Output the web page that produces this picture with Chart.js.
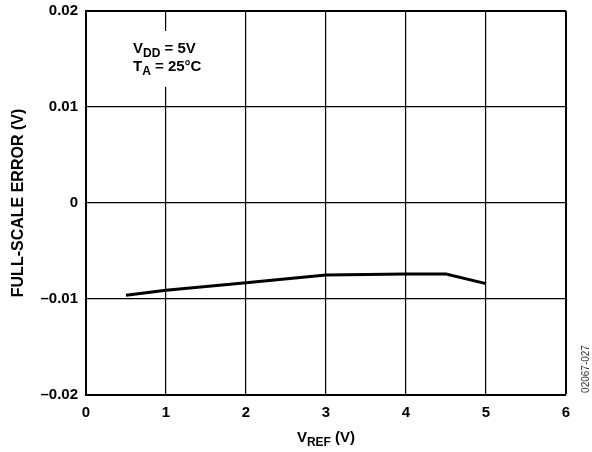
<!DOCTYPE html>
<html>
<head>
<meta charset="utf-8">
<script src="https://cdn.jsdelivr.net/npm/chart.js@4.4.0/dist/chart.umd.min.js"></script>
<style>
  html, body { margin: 0; padding: 0; background: #fff; }
  #wrap { width: 592px; height: 452px; }
</style>
</head>
<body>
<div id="wrap"><canvas id="chart" width="592" height="452"></canvas></div>
<script>
const vref = [0.5, 1, 2, 3, 4, 4.5, 5];
const fullScaleError = [-0.0096, -0.0091, -0.0083, -0.0075, -0.0074, -0.0074, -0.0084];
const xTicks = [0, 1, 2, 3, 4, 5, 6];
const yTickLabels = ["\u20130.02", "\u20130.01", "0", "0.01", "0.02"];

const FONT = "'Liberation Sans', Arial, Helvetica, sans-serif";

// draws text with a subscript part: [main, sub, rest]
function subText(ctx, parts, x, y, size, subSize, align) {
  ctx.font = `bold ${size}px ${FONT}`;
  const w1 = ctx.measureText(parts[0]).width;
  const w3 = ctx.measureText(parts[2]).width;
  ctx.font = `bold ${subSize}px ${FONT}`;
  const w2 = ctx.measureText(parts[1]).width;
  let start = x;
  if (align === "center") start = x - (w1 + w2 + w3) / 2;
  ctx.textAlign = "left";
  ctx.textBaseline = "alphabetic";
  ctx.font = `bold ${size}px ${FONT}`;
  ctx.fillText(parts[0], start, y);
  ctx.font = `bold ${subSize}px ${FONT}`;
  ctx.fillText(parts[1], start + w1, y + 4);
  ctx.font = `bold ${size}px ${FONT}`;
  ctx.fillText(parts[2], start + w1 + w2, y);
}

const labelsPlugin = {
  id: "labels",
  afterDraw(chart) {
    const ctx = chart.ctx;
    const area = chart.chartArea;
    ctx.save();

    // white box behind the conditions note
    ctx.fillStyle = "#fff";
    ctx.fillRect(126, 31, 84, 56);

    ctx.fillStyle = "#000";
    subText(ctx, ["V", "DD", " = 5V"], 133, 53, 15, 12, "left");
    subText(ctx, ["T", "A", " = 25\u00B0C"], 133, 71, 15, 12, "left");

    subText(ctx, ["V", "REF", " (V)"], (area.left + area.right) / 2, 442, 15, 12, "center");

    ctx.save();
    ctx.translate(19, (area.top + area.bottom) / 2);
    ctx.rotate(-Math.PI / 2);
    ctx.font = `bold 16px ${FONT}`;
    ctx.textAlign = "center";
    ctx.textBaseline = "middle";
    ctx.fillText("FULL-SCALE ERROR (V)", 0, 0);
    ctx.restore();

    ctx.save();
    ctx.translate(586, 369);
    ctx.rotate(-Math.PI / 2);
    ctx.font = `10px ${FONT}`;
    ctx.fillStyle = "#333";
    ctx.textAlign = "center";
    ctx.textBaseline = "middle";
    ctx.fillText("02067-027", 0, 0);
    ctx.restore();

    ctx.restore();
  }
};

new Chart(document.getElementById("chart"), {
  type: "line",
  data: {
    datasets: [{
      data: vref.map((v, i) => ({ x: v, y: fullScaleError[i] })),
      borderColor: "#000",
      borderWidth: 3,
      pointRadius: 0,
      tension: 0,
      fill: false
    }]
  },
  options: {
    responsive: false,
    animation: false,
    layout: { padding: { top: 0, right: 26, left: 0, bottom: 0 } },
    plugins: { legend: { display: false }, tooltip: { enabled: false } },
    scales: {
      x: {
        type: "linear",
        min: 0,
        max: 6,
        afterFit: (s) => { s.height = 57; },
        afterBuildTicks: (s) => { s.ticks = xTicks.map((v) => ({ value: v })); },
        grid: {
          color: "#000",
          lineWidth: (c) => (c.index === xTicks.length - 1 ? 2 : 1.2),
          drawTicks: false
        },
        border: { color: "#000", width: 2 },
        ticks: {
          color: "#000",
          padding: 9,
          font: { family: FONT, size: 15, weight: "bold" },
          callback: (v) => String(v)
        }
      },
      y: {
        min: -0.02,
        max: 0.02,
        afterFit: (s) => { s.width = 86; s.paddingTop = 11; s.paddingBottom = 0; },
        afterBuildTicks: (s) => { s.ticks = yTickLabels.map((t, i) => ({ value: -0.02 + i * 0.01 })); },
        grid: {
          color: "#000",
          lineWidth: (c) => (c.index === yTickLabels.length - 1 ? 2 : 1.2),
          drawTicks: false
        },
        border: { color: "#000", width: 2 },
        ticks: {
          color: "#000",
          padding: 8,
          font: { family: FONT, size: 15, weight: "bold" },
          callback: (v, i) => yTickLabels[i]
        }
      }
    }
  },
  plugins: [labelsPlugin]
});
</script>
</body>
</html>
